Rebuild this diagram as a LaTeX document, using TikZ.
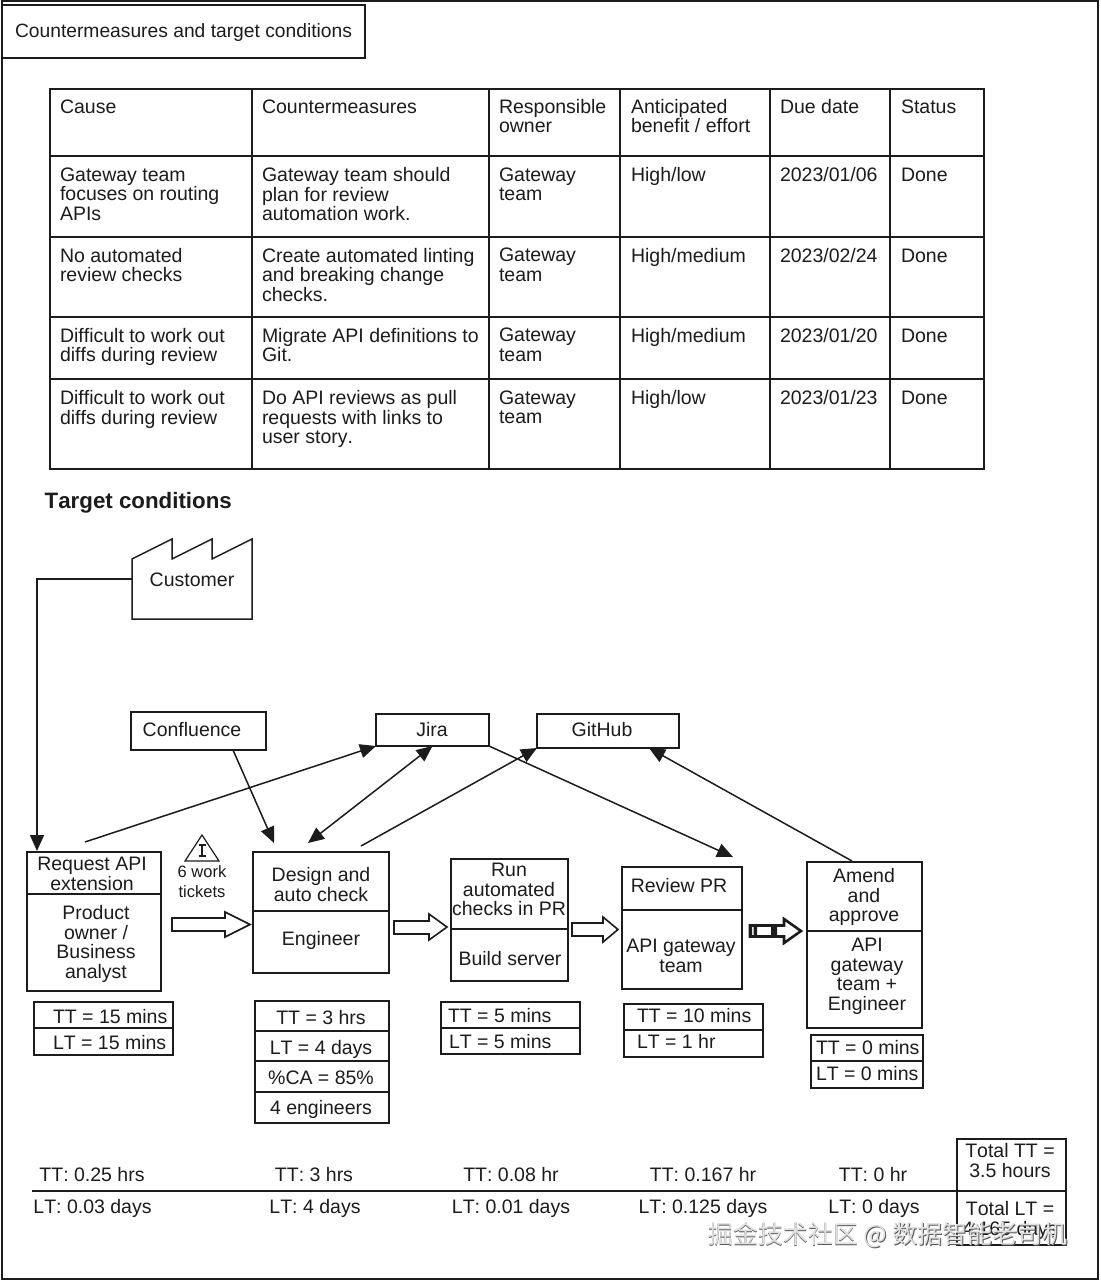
\documentclass[tikz,border=0pt]{standalone}
\usepackage{fontspec}
\setmainfont[Kerning=Off]{Liberation Sans}
\newfontfamily\cjkwm{Noto Sans CJK SC}
\usetikzlibrary{arrows.meta}
\definecolor{ink}{HTML}{1C1C1C}
\tikzset{
  labelbase/.style={inner sep=0pt, outer sep=0pt, text=ink,
    execute at begin node={\rule{0pt}{15pt}}},
  lableft/.style={labelbase, anchor=north west, align=left, font=\fontsize{19.5}{19.5}\selectfont},
  labmid/.style={labelbase, anchor=north, align=center, font=\fontsize{19.5}{19.5}\selectfont},
  labsmall/.style={labelbase, anchor=north, align=center, font=\fontsize{16.5}{20}\selectfont},
  boxshape/.style={draw=ink, line width=1.5pt, inner sep=0pt, outer sep=0pt, anchor=north west},
  rulestyle/.style={draw=ink, line width=1.5pt},
  flow/.style={draw=ink, line width=1.5pt, -{Triangle[length=16pt,width=14pt]}},
  flowboth/.style={draw=ink, line width=1.5pt, {Triangle[length=16pt,width=14pt]}-{Triangle[length=16pt,width=14pt]}},
  pushshape/.style={draw=ink, line width=1.6pt, fill=white, line join=miter},
  pullshape/.style={draw=ink, line width=2.6pt, fill=white, line join=miter},
}
\newcommand{\tl}[4]{\node[lableft] (#1) at (#2,{#3-15}) {#4};}
\newcommand{\tc}[4]{\node[labmid] (#1) at (#2,{#3-15}) {#4};}
\newcommand{\bx}[5]{\node[boxshape, minimum width={(#4-#2)*1pt}, minimum height={(#5-#3)*1pt}] (#1) at (#2,#3) {};}
\newcommand{\pusharrow}[8][pushshape]{\draw[#1] (#2,#5) -- (#3,#5) -- (#3,#7) -- (#4,{(#7+#8)/2}) -- (#3,#8) -- (#3,#6) -- (#2,#6) -- cycle;}
\begin{document}
\begin{tikzpicture}[x=1pt,y=-1pt]
\useasboundingbox (0,0) rectangle (1100,1281);
\fill[white] (0,0) rectangle (1100,1281);
% frame and title
\draw[rulestyle] (2,1) rectangle (1098,1279);
\bx{titlebox}{2}{5}{365}{58}
\node[lableft, font=\fontsize{19.25}{19.5}\selectfont] (title) at (15,22.5) {Countermeasures and target conditions};
% table
\draw[rulestyle] (50,89) rectangle (984,469);
\foreach \yy in {156,237,317,379} \draw[rulestyle] (50,\yy) -- (984,\yy);
\foreach \xx in {252,489,620,770,890} \draw[rulestyle] (\xx,89) -- (\xx,469);
\tl{h1}{60}{114}{Cause}
\tl{h2}{262}{114}{Countermeasures}
\tl{h3}{499}{114}{Responsible\\owner}
\tl{h4}{631}{114}{Anticipated\\benefit / effort}
\tl{h5}{780}{114}{Due date}
\tl{h6}{901}{114}{Status}
\tl{a1}{60}{182.5}{Gateway team\\focuses on routing\\APIs}
\tl{a2}{262}{182.5}{Gateway team should\\plan for review\\automation work.}
\tl{a3}{499}{182.5}{Gateway\\team}
\tl{a4}{631}{181.5}{High/low}
\tl{a5}{780}{181.5}{2023/01/06}
\tl{a6}{901}{181.5}{Done}
\tl{b1}{60}{263}{No automated\\review checks}
\tl{b2}{262}{263}{Create automated linting\\and breaking change\\checks.}
\tl{b3}{499}{263}{Gateway\\team}
\tl{b4}{631}{262.5}{High/medium}
\tl{b5}{780}{262.5}{2023/02/24}
\tl{b6}{901}{262.5}{Done}
\tl{c1}{60}{343}{Difficult to work out\\diffs during review}
\tl{c2}{262}{343}{Migrate API definitions to\\Git.}
\tl{c3}{499}{343}{Gateway\\team}
\tl{c4}{631}{342.5}{High/medium}
\tl{c5}{780}{342.5}{2023/01/20}
\tl{c6}{901}{342.5}{Done}
\tl{d1}{60}{405.5}{Difficult to work out\\diffs during review}
\tl{d2}{262}{405.5}{Do API reviews as pull\\requests with links to\\user story.}
\tl{d3}{499}{405.5}{Gateway\\team}
\tl{d4}{631}{404.5}{High/low}
\tl{d5}{780}{404.5}{2023/01/23}
\tl{d6}{901}{404.5}{Done}
\node[inner sep=0pt, anchor=base west, text=ink, font=\fontsize{22.3}{24}\selectfont\bfseries] (target) at (44.5,508.5) {Target conditions};
% customer
\draw[rulestyle, line join=miter] (132,559) -- (172,539) -- (172,559) -- (212,539) -- (212,559) -- (252,539) -- (252,619) -- (132,619) -- cycle;
\coordinate (custleft) at (132,579);
\tc{customer}{192}{586}{Customer}
% tools
\bx{confluencebox}{131}{712}{266}{750}
\tc{confluence}{192}{736}{Confluence}
\bx{jirabox}{376}{714}{489}{746}
\tc{jira}{432}{736}{Jira}
\bx{githubbox}{537}{714}{679}{748}
\tc{github}{602}{736}{GitHub}
% process boxes
\bx{reqbox}{27}{852}{161}{991}
\draw[rulestyle] (27,894) -- (161,894);
\tc{req}{92}{872.5}{Request API\\extension}
\tc{reqwho}{96}{920.5}{Product\\owner /\\Business\\analyst}
\bx{desbox}{253}{852}{389}{973}
\draw[rulestyle] (253,911) -- (389,911);
\tc{des}{321}{882.5}{Design and\\auto check}
\tc{deswho}{321}{945}{Engineer}
\bx{runbox}{451}{859}{568}{981}
\draw[rulestyle] (451,929) -- (568,929);
\tc{run}{509}{878.5}{Run\\automated\\checks in PR}
\tc{runwho}{510}{965}{Build server}
\bx{revbox}{622}{867}{742}{989}
\draw[rulestyle] (622,910) -- (742,910);
\tc{rev}{679}{892}{Review PR}
\tc{revwho}{681}{954.5}{API gateway\\team}
\bx{ambox}{807}{862}{922}{1028}
\draw[rulestyle] (807,931) -- (922,931);
\tc{am}{864}{883.5}{Amend\\and\\approve}
\tc{amwho}{867}{953.5}{API\\gateway\\team +\\Engineer}
% inventory
\draw[rulestyle, line width=1.2pt, line join=miter] (202,835) -- (219,861) -- (185,861) -- cycle;
\draw[ink, line width=1.2pt] (202,845) -- (202,856) (198.5,845) -- (205.5,845) (198.5,856) -- (205.5,856);
\node[labsmall] (tickets) at (202,866) {6 work\\tickets};
% push arrows
\pusharrow{172}{225}{250}{918}{931}{912}{937}
\pusharrow{394}{429}{447}{921}{934}{914}{940}
\pusharrow{572}{603}{618}{923}{936}{917}{942}
\pusharrow[pullshape]{750}{784}{801}{925.5}{936.5}{919}{943}
\fill[ink] (749,925) rectangle (752,937) (753.5,925) rectangle (757,937) (771,925) rectangle (777,937);
% timing boxes
\bx{reqtime}{34}{1002}{173}{1055}
\draw[rulestyle] (34,1028) -- (173,1028);
\tl{reqtt}{53}{1023}{TT = 15 mins}
\tl{reqlt}{53}{1049}{LT = 15 mins}
\bx{destime}{255}{1001}{389}{1123}
\foreach \yy in {1031,1061,1092} \draw[rulestyle] (255,\yy) -- (389,\yy);
\tc{destt}{321}{1024}{TT = 3 hrs}
\tc{deslt}{321}{1054}{LT = 4 days}
\tc{desca}{321}{1084}{\%CA = 85\%}
\tc{deseng}{321}{1114}{4 engineers}
\bx{runtime}{441}{1002}{580}{1054}
\draw[rulestyle] (441,1028) -- (580,1028);
\tl{runtt}{448}{1022}{TT = 5 mins}
\tl{runlt}{449}{1048}{LT = 5 mins}
\bx{revtime}{624}{1004}{763}{1057}
\draw[rulestyle] (624,1030) -- (763,1030);
\tl{revtt}{637}{1022}{TT = 10 mins}
\tl{revlt}{637}{1048}{LT = 1 hr}
\bx{amtime}{811}{1035}{923}{1088}
\draw[rulestyle] (811,1061) -- (923,1061);
\tl{amtt}{816}{1054}{TT = 0 mins}
\tl{amlt}{816}{1080}{LT = 0 mins}
% timeline
\coordinate (lineleft) at (32,1191);
\bx{totalbox}{957}{1139}{1066}{1245}
\draw[rulestyle] (lineleft) -- (1066,1191);
\tc{s1}{92}{1181}{TT: 0.25 hrs}
\tc{s2}{314}{1181}{TT: 3 hrs}
\tc{s3}{511}{1181}{TT: 0.08 hr}
\tc{s4}{703}{1181}{TT: 0.167 hr}
\tc{s5}{873}{1181}{TT: 0 hr}
\tc{l1}{92.5}{1213}{LT: 0.03 days}
\tc{l2}{315}{1213}{LT: 4 days}
\tc{l3}{511}{1213}{LT: 0.01 days}
\tc{l4}{703}{1213}{LT: 0.125 days}
\tc{l5}{874}{1213}{LT: 0 days}
\tc{tott}{1010}{1158.5}{Total TT =\\3.5 hours}
\tc{totl}{1010}{1216.5}{Total LT =\\4.165 days}
% connectors
\coordinate (reqtop) at (37,851);
\coordinate (reqout) at (85,842);
\coordinate (desin) at (274,843);
\coordinate (desjira) at (308,843);
\coordinate (desout) at (361,846);
\coordinate (revin) at (733,857);
\coordinate (amout) at (852,861);
\coordinate (ghin) at (649,748);
\coordinate (confout) at (233,750);
\draw[flow] (custleft) -| (reqtop);
\draw[flow] (reqout) -- (jirabox.south west);
\draw[flow] (confout) -- (desin);
\draw[flowboth] (jirabox.south) -- (desjira);
\draw[flow] (desout) -- (githubbox.south west);
\draw[flow] (jirabox.south east) -- (revin);
\draw[flow] (amout) -- (ghin);
% source mark printed over the picture
\node[inner sep=0pt, anchor=center, text=black!65, font=\cjkwm\fontsize{25}{25}\selectfont] (markshade) at (888.8,1235.8) {掘金技术社区 @ 数据智能老司机};
\node[inner sep=0pt, anchor=center, text=black!12, font=\cjkwm\fontsize{25}{25}\selectfont] (mark) at (888,1235) {掘金技术社区 @ 数据智能老司机};
\end{tikzpicture}
\end{document}
